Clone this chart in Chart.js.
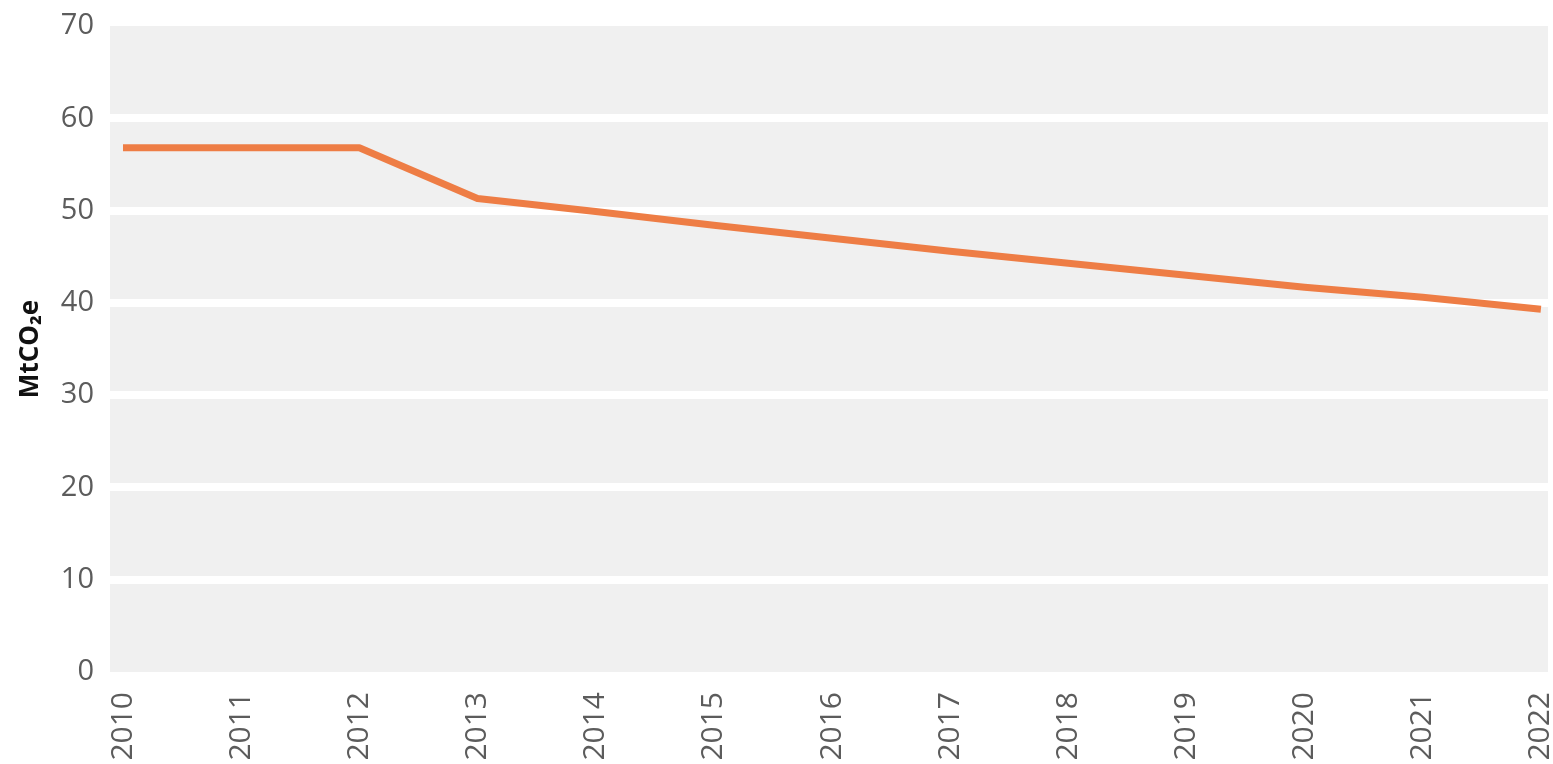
<!DOCTYPE html>
<html lang="en">
<head>
  <meta charset="UTF-8">
  <title>MtCO2e</title>
  <script src="https://cdn.jsdelivr.net/npm/chart.js"></script>
  <style>
    html, body { margin: 0; padding: 0; background: #fff; }
    #wrap { width: 1553px; height: 764px; }
  </style>
</head>
<body>
  <div id="wrap"><canvas id="chart"></canvas></div>

  <script>
    const years = [2010, 2011, 2012, 2013, 2014, 2015, 2016, 2017, 2018, 2019, 2020, 2021, 2022];
    const emissions = [56.8, 56.8, 56.8, 51.3, 49.9, 48.4, 47.0, 45.6, 44.3, 43.0, 41.7, 40.6, 39.3];
    const yTicks = [0, 10, 20, 30, 40, 50, 60, 70];

    // grey plot background behind the white gridlines
    const plotBackground = {
      id: 'plotBackground',
      beforeDraw(chart) {
        const { ctx, chartArea: a } = chart;
        ctx.save();
        ctx.fillStyle = '#f0f0f0';
        ctx.fillRect(a.left, a.top, a.right - a.left, a.bottom - a.top);
        ctx.restore();
      }
    };

    new Chart(document.getElementById('chart'), {
      type: 'line',
      data: {
        datasets: [{
          data: years.map((y, i) => ({ x: y, y: emissions[i] })),
          borderColor: '#ee7d45',
          borderWidth: 7,
          pointRadius: 0,
          tension: 0,
          borderJoinStyle: 'round',
          borderCapStyle: 'butt'
        }]
      },
      plugins: [plotBackground],
      options: {
        responsive: true,
        maintainAspectRatio: false,
        animation: false,
        layout: { padding: { top: 26, right: 5, left: 0, bottom: 0 } },
        plugins: {
          legend: { display: false },
          tooltip: { enabled: false }
        },
        scales: {
          x: {
            type: 'linear',
            min: 2009.89,
            max: 2022.06,
            afterBuildTicks: s => { s.ticks = years.map(v => ({ value: v })); },
            afterFit: s => { s.height = 92; s.paddingLeft = 0; s.paddingRight = 0; },
            grid: { display: false, drawTicks: false },
            border: { display: false },
            ticks: {
              autoSkip: false,
              minRotation: 90,
              maxRotation: 90,
              padding: 20,
              color: '#5c5c5c',
              font: { family: 'Open Sans', size: 30 },
              callback: v => String(v)
            }
          },
          y: {
            min: 0,
            max: 70,
            afterBuildTicks: s => { s.ticks = yTicks.map(v => ({ value: v })); },
            afterFit: s => { s.width = 110; s.paddingTop = 0; s.paddingBottom = 0; },
            grid: {
              color: c => (c.tick.value === 0 || c.tick.value === 70) ? 'rgba(0,0,0,0)' : '#ffffff',
              lineWidth: 8,
              drawTicks: false
            },
            border: { display: false },
            ticks: {
              padding: 16,
              color: '#5c5c5c',
              font: { family: 'Open Sans', size: 29 }
            },
            title: {
              display: true,
              text: 'MtCO₂e',
              color: '#111',
              font: { family: 'Open Sans', size: 26, weight: 'bold' },
              padding: { top: 15, bottom: 0 }
            }
          }
        }
      }
    });
  </script>
</body>
</html>
